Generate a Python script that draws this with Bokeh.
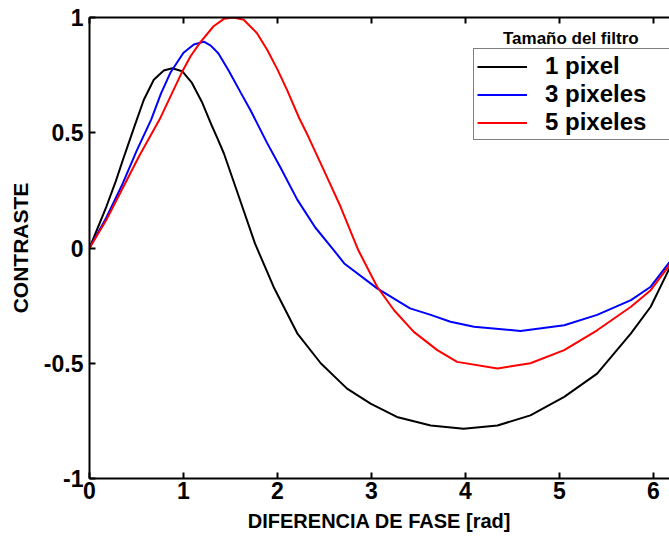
from bokeh.plotting import figure
from bokeh.models import (Range1d, LinearAxis, FixedTicker, Legend, LegendItem, Label,
                          CustomJSTickFormatter)
from bokeh.embed import file_html
from bokeh.resources import INLINE

# ---- data ----
x_black = [0, 0.18, 0.28, 0.37, 0.48, 0.578, 0.684, 0.79, 0.88, 0.986, 1.09, 1.20, 1.305, 1.36,
           1.43, 1.57, 1.76, 1.96, 2.21, 2.46, 2.74, 2.99, 3.27, 3.63, 3.98, 4.34, 4.69, 5.05,
           5.40, 5.76, 5.97, 6.16, 6.283]
y_black = [0, 0.18, 0.29, 0.40, 0.53, 0.643, 0.73, 0.77, 0.78, 0.767, 0.716, 0.63, 0.527, 0.477,
           0.41, 0.245, 0.02, -0.17, -0.37, -0.50, -0.61, -0.675, -0.733, -0.77, -0.784, -0.77,
           -0.726, -0.646, -0.545, -0.37, -0.255, -0.096, 0.0]

x_blue = [0, 0.177, 0.354, 0.50, 0.656, 0.76, 0.86, 1.00, 1.11, 1.216, 1.29, 1.37, 1.48, 1.61,
          1.71, 1.89, 2.03, 2.21, 2.40, 2.60, 2.71, 3.06, 3.41, 3.63, 3.84, 4.09, 4.585, 5.05,
          5.40, 5.76, 5.97, 6.16, 6.283]
y_blue = [0, 0.13, 0.28, 0.42, 0.557, 0.67, 0.76, 0.847, 0.883, 0.895, 0.878, 0.845, 0.77, 0.673,
          0.60, 0.455, 0.35, 0.21, 0.09, -0.01, -0.067, -0.175, -0.262, -0.29, -0.32, -0.342,
          -0.36, -0.335, -0.29, -0.226, -0.168, -0.067, 0.0]

x_red = [0, 0.177, 0.354, 0.53, 0.745, 0.98, 1.075, 1.18, 1.32, 1.43, 1.535, 1.64, 1.78, 1.89,
         2.0, 2.10, 2.23, 2.32, 2.49, 2.67, 2.86, 3.06, 3.24, 3.45, 3.70, 3.91, 4.34, 4.69,
         5.05, 5.40, 5.76, 5.97, 6.16, 6.283]
y_red = [0, 0.12, 0.26, 0.40, 0.557, 0.76, 0.832, 0.893, 0.962, 0.994, 1.0, 0.99, 0.933, 0.86,
         0.774, 0.687, 0.564, 0.49, 0.34, 0.18, -0.01, -0.168, -0.27, -0.364, -0.443, -0.494,
         -0.523, -0.50, -0.443, -0.357, -0.255, -0.183, -0.08, 0.0]

series_labels = ["1 pixel", "3 pixeles", "5 pixeles"]
legend_title = "Tamaño del filtro"
x_ticks = [0, 1, 2, 3, 4, 5, 6]
x_tick_labels = ["0", "1", "2", "3", "4", "5", "6"]
y_ticks = [-1, -0.5, 0, 0.5, 1]
y_tick_labels = ["-1", "-0.5", "0", "0.5", "1"]
x_title = "DIFERENCIA DE FASE [rad]"
y_title = "CONTRASTE"

FONT = "Liberation Sans"

p = figure(width=669, height=537, output_backend="svg", toolbar_location=None,
           x_range=Range1d(0, 6.17), y_range=Range1d(-1, 1),
           min_border_left=89, min_border_right=0, min_border_top=17, min_border_bottom=59)
p.grid.visible = False
p.outline_line_color = None

for ax, ticks, labels in ((p.xaxis[0], x_ticks, x_tick_labels), (p.yaxis[0], y_ticks, y_tick_labels)):
    ax.ticker = FixedTicker(ticks=ticks)
    ax.major_label_overrides = {t: l for t, l in zip(ticks, labels)}
    ax.major_tick_in = 6
    ax.major_tick_out = 0
    ax.minor_tick_in = 0
    ax.minor_tick_out = 0
    ax.axis_line_width = 2
    ax.major_tick_line_width = 2
    ax.major_label_text_font = FONT
    ax.major_label_text_font_style = "bold"
    ax.major_label_text_font_size = "23px"
    ax.major_label_text_color = "black"
    ax.axis_label_text_font = FONT
    ax.axis_label_text_font_style = "bold"
    ax.axis_label_text_color = "black"

p.xaxis.axis_label = x_title
p.xaxis.axis_label_text_font_size = "20px"
p.xaxis.major_label_standoff = 3
p.xaxis.axis_label_standoff = 8
p.yaxis.axis_label = y_title
p.yaxis.axis_label_text_font_size = "21px"
p.yaxis.major_label_standoff = 6
p.yaxis.axis_label_standoff = 9

top = LinearAxis(ticker=FixedTicker(ticks=x_ticks),
                 formatter=CustomJSTickFormatter(code="return ''"),
                 major_label_text_font_size="1px",
                 major_tick_in=6, major_tick_out=0, minor_tick_in=0, minor_tick_out=0,
                 axis_line_width=2, major_tick_line_width=2, major_label_standoff=0)
p.add_layout(top, "above")

r1 = p.line(x_black, y_black, line_color="black", line_width=2)
r2 = p.line(x_blue, y_blue, line_color="#0000ff", line_width=2)
r3 = p.line(x_red, y_red, line_color="#ff0000", line_width=2)

legend = Legend(items=[LegendItem(label=series_labels[0], renderers=[r1]),
                       LegendItem(label=series_labels[1], renderers=[r2]),
                       LegendItem(label=series_labels[2], renderers=[r3])],
                location=(384, 338), margin=0, padding=3, spacing=0,
                glyph_width=50, glyph_height=27, label_height=27, label_width=130,
                label_standoff=18, border_line_color="black", border_line_width=1,
                label_text_font=FONT, label_text_font_style="bold",
                label_text_font_size="24px", label_text_color="black",
                background_fill_alpha=1.0)
p.add_layout(legend)

p.add_layout(Label(x=5.12, y=0.909, text=legend_title, text_align="center",
                   text_baseline="middle", text_font=FONT, text_font_style="bold",
                   text_font_size="17px", text_color="black"))

open("out.html", "w").write(file_html(p, INLINE))
